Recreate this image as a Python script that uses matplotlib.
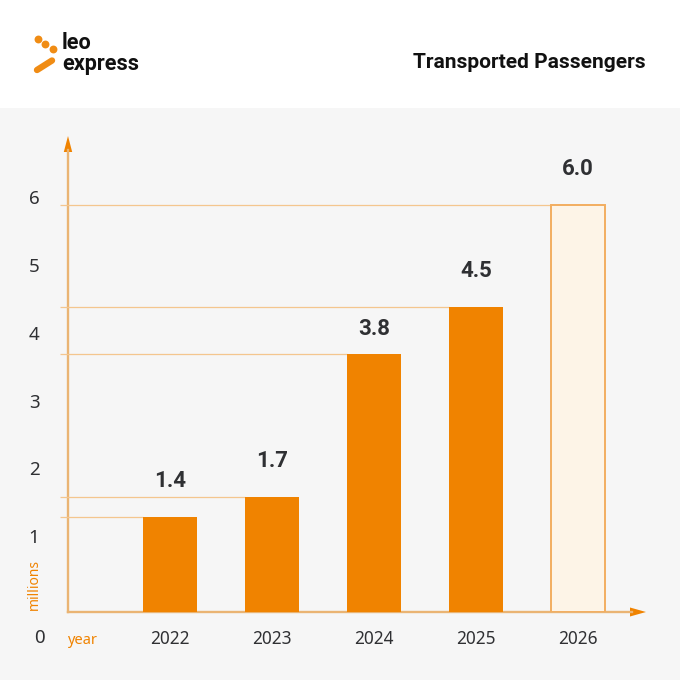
import matplotlib
matplotlib.use('Agg')
import matplotlib.pyplot as plt
from matplotlib.patches import Rectangle

years = [2022, 2023, 2024, 2025, 2026]
passengers = [1.4, 1.7, 3.8, 4.5, 6.0]
value_labels = ['1.4', '1.7', '3.8', '4.5', '6.0']
y_ticks = [1, 2, 3, 4, 5, 6]
title = 'Transported Passengers'

orange = '#f08300'
line_col = '#eab473'
guide_col = '#f4c68e'
text_col = '#2f3033'
W = 680

plt.rcParams['font.family'] = ['Noto Sans', 'DejaVu Sans']

fig = plt.figure(figsize=(6.8, 6.8), dpi=100, facecolor='white')

# overlay in pixel coords for header + logo
bg = fig.add_axes([0, 0, 1, 1])
bg.set_xlim(0, W)
bg.set_ylim(W, 0)
bg.axis('off')
bg.add_patch(Rectangle((0, 108), W, W - 108, color='#f6f6f6', lw=0))
bg.scatter([37.5, 45, 52.5], [39, 43.5, 48.5], s=32, color='#f08c14', lw=0)
bg.plot([37, 52], [70, 60.5], color='#f08c14', lw=4.6, solid_capstyle='round')
bg.text(62, 43, 'leo', fontsize=15.6, color='#111111', va='center', family='Roboto', fontweight='bold')
bg.text(62, 64, 'express', fontsize=15.6, color='#111111', va='center', family='Roboto', fontweight='bold')
bg.text(646, 63, title, fontsize=15, color='#111111', va='center', ha='right',
        family='Roboto', fontweight='bold')

# chart axes: baseline at y=612, x axis starts at x=68
ax = fig.add_axes([68 / W, (W - 612) / W, 578 / W, 478 / W])
ax.patch.set_alpha(0)
ax.set_xlim(2021, 2021 + 578 / 102)
ax.set_ylim(0, 478 / 67.83)
for s in ax.spines.values():
    s.set_visible(False)
ax.set_xticks([])
ax.set_yticks([])

bar_w = 54 / 102
for yr, v in zip(years[:-1], passengers[:-1]):
    ax.bar(yr, v, width=bar_w, color=orange, lw=0, zorder=3)
ax.bar(years[-1], passengers[-1], width=bar_w, facecolor='#fdf4e7',
       edgecolor='#f2ae60', lw=1.4, zorder=3)

# guide lines from left of axis to each bar
x0 = 2021 - 8 / 102
for yr, v in zip(years, passengers):
    ax.plot([x0, yr - bar_w / 2], [v, v], color=guide_col, lw=0.9, clip_on=False, zorder=1,
            solid_capstyle='butt')

# axes lines stop at the arrow heads
bg.plot([68, 68], [612, 150], color=line_col, lw=1.7, solid_capstyle='projecting')
bg.plot([68, 632], [612, 612], color=line_col, lw=1.7, solid_capstyle='projecting')
bg.fill([63.8, 72.2, 68], [152, 152, 136], color=orange, lw=0)
bg.fill([630, 630, 646], [607.5, 616.5, 612], color=orange, lw=0)

for yr, v, lab in zip(years, passengers, value_labels):
    pad = 25 if yr == 2024 else 36
    ax.annotate(lab, (yr, v), xytext=(0, pad), textcoords='offset pixels', ha='center', va='center',
                fontsize=16, family='Roboto', fontweight='bold', color=text_col, annotation_clip=False)
    bg.text(170 + (yr - 2022) * 102, 639, str(yr), fontsize=12.4, color=text_col, ha='center', va='center')

for t in y_ticks:
    bg.text(34, 606 - 67.8 * t, str(t), fontsize=13.5, color=text_col, ha='center', va='center')
bg.text(39, 638, '0', fontsize=13.5, color=text_col, ha='center', va='center')

bg.text(82, 641, 'year', fontsize=10.5, color=orange, ha='center', va='center')
bg.text(34, 585, 'millions', fontsize=10, color=orange, ha='center', va='center', rotation=90)

fig.savefig('out.png', dpi=100, facecolor='white')
